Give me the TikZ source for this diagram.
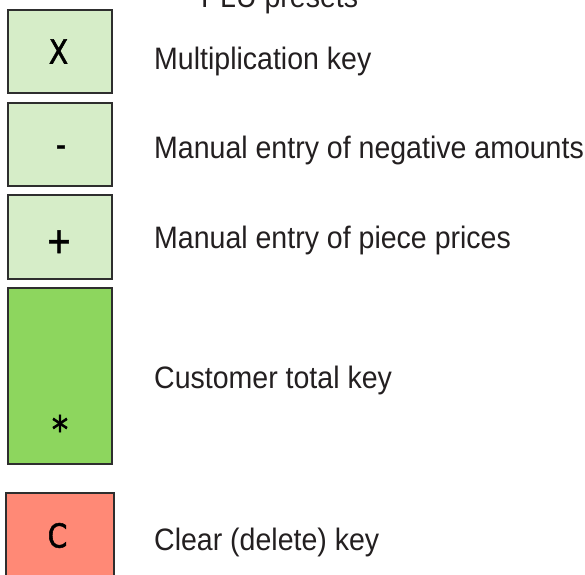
\documentclass[tikz,border=0pt]{standalone}
\usepackage{fontspec}
\setmainfont{Liberation Sans}[FakeStretch=0.92]
\newfontfamily\keyfont{DejaVu Sans}[FakeStretch=0.85, FakeBold=1.6]

\definecolor{keylight}{HTML}{D6EDC8}
\definecolor{keytotal}{HTML}{8DD65E}
\definecolor{keyclear}{HTML}{FF8976}
\definecolor{keyframe}{HTML}{2E2E2E}
\definecolor{labeltext}{HTML}{231F20}

\tikzset{
  keybox/.style={draw=keyframe, line width=1.3pt, rectangle, inner sep=0pt,
                 minimum width=104pt},
  keyglyph/.style={anchor=base, inner sep=0pt, font=\keyfont\fontsize{33}{33}\selectfont},
  keylabel/.style={anchor=base west, inner sep=0pt, text=labeltext,
                   font=\fontsize{31}{31}\selectfont}
}

\begin{document}
\begin{tikzpicture}[x=1pt, y=-1pt]
  \useasboundingbox (0,0) rectangle (585,574);
  \clip (0,0) rectangle (585,574);

  % heading line, mostly above the top edge
  \node[keylabel] (plu) at (201,7) {PLU presets};

  % key faces
  \node[keybox, fill=keylight, minimum height=83pt]  (kmul)   at (60,51.5) {};
  \node[keybox, fill=keylight, minimum height=83pt]  (kneg)   at (60,144.5) {};
  \node[keybox, fill=keylight, minimum height=84pt]  (kplus)  at (60,237) {};
  \node[keybox, fill=keytotal, minimum height=176pt] (ktotal) at (60,376) {};
  \node[keybox, fill=keyclear, minimum width=108pt, minimum height=110pt] (kclear) at (60,548) {};

  % key symbols
  \node[keyglyph] (gmul)   at (58.5,63.5)  {X};
  \node[keyglyph] (gneg)   at (61,156) {-};
  \node[keyglyph, font=\keyfont\fontsize{36}{36}\selectfont] (gplus)  at (59,253) {+};
  \node[keyglyph, font=\keyfont\fontsize{38}{38}\selectfont] (gtotal) at (60,443) {*};
  \node[keyglyph] (gclear) at (57.5,547.5) {C};

  % descriptions
  \node[keylabel] (lmul)   at (154,69)  {Multiplication key};
  \node[keylabel] (lneg)   at (154,158) {Manual entry of negative amounts};
  \node[keylabel] (lplus)  at (154,248) {Manual entry of piece prices};
  \node[keylabel] (ltotal) at (154,388) {Customer total key};
  \node[keylabel] (lclear) at (154,550) {Clear (delete) key};
\end{tikzpicture}
\end{document}
